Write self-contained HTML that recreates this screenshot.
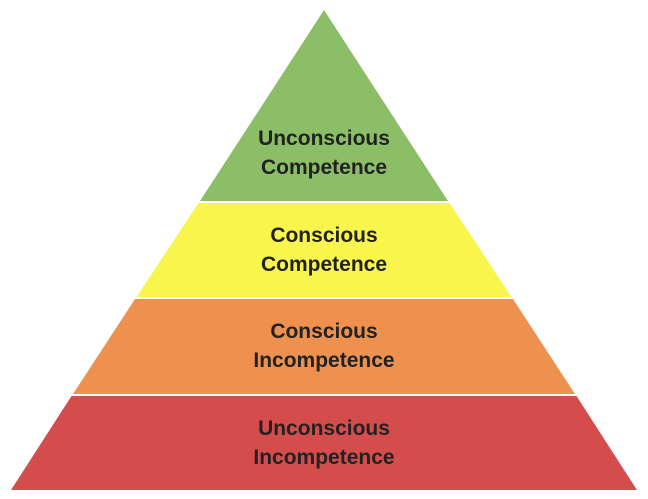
<!DOCTYPE html>
<html><head><style>body{margin:0;background:#fff}svg{display:block}</style></head>
<body>
<svg width="648" height="499" xmlns="http://www.w3.org/2000/svg">
<polygon points="324,10 200,201 448,201" fill="#8BBE67"/>
<polygon points="198.5,203 449.5,203 511.5,297 136.5,297" fill="#F8F54D"/>
<polygon points="135,299 513,299 575,394 73,394" fill="#EE914F"/>
<polygon points="71.5,396 576.5,396 637,490 11,490" fill="#D44C4C"/>
<g font-family="'Liberation Sans',sans-serif" font-weight="bold" font-size="21" fill="#222" text-anchor="middle">
<text x="324" y="145">Unconscious</text><text x="324" y="174">Competence</text>
<text x="324" y="242">Conscious</text><text x="324" y="271">Competence</text>
<text x="324" y="338">Conscious</text><text x="324" y="367">Incompetence</text>
<text x="324" y="435">Unconscious</text><text x="324" y="464">Incompetence</text>
</g>
</svg>
</body></html>
